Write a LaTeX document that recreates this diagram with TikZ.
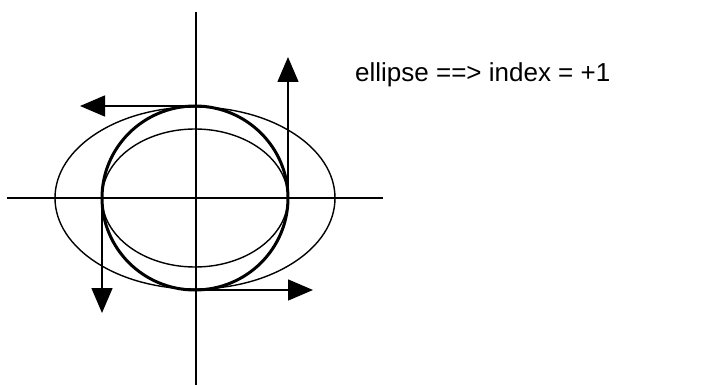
\documentclass[tikz,border=0pt]{standalone}
\usepackage{fontspec}
\setmainfont{Liberation Sans}
\usetikzlibrary{arrows.meta}

\begin{document}
\begin{tikzpicture}[
x=1pt, y=-1pt, % one unit per pixel of the scan
>={Triangle[length=25pt,width=21pt]},
axis/.style={line width=1.4pt},
curve/.style={line width=1.4pt},
orbit/.style={line width=3pt},
every node/.style={font=\fontsize{26}{30}\selectfont, inner sep=0pt}
]
\useasboundingbox (0,0) rectangle (705,385);

% ================= Points =================
\coordinate (O) at (195,198);
\coordinate (top) at (195,106);
\coordinate (right) at (288,198);
\coordinate (left) at (102,198);
\coordinate (bottom) at (195,290);

% arrow tips
\coordinate (topTip) at (80,106);
\coordinate (rightTip) at (288,57);
\coordinate (leftTip) at (102,313);
\coordinate (bottomTip) at (313,290);

% ================= Axes =================
\draw[axis] (196,12) -- (196,385);
\draw[axis] (7,198) -- (383,198);

% ================= Curves =================
\draw[curve] (O) ellipse [x radius=140, y radius=91];
\draw[curve] (O) ellipse [x radius=93, y radius=69];
\draw[orbit] (O) ellipse [x radius=93, y radius=92];

% ================= Arrows =================
\draw[axis,->] (top) -- (topTip);
\draw[axis,->] (right) -- (rightTip);
\draw[axis,->] (left) -- (leftTip);
\draw[axis,->] (bottom) -- (bottomTip);

% ================= Label =================
\node[anchor=base west] (caption) at (355,82) {ellipse ==> index = +1};

\end{tikzpicture}
\end{document}
